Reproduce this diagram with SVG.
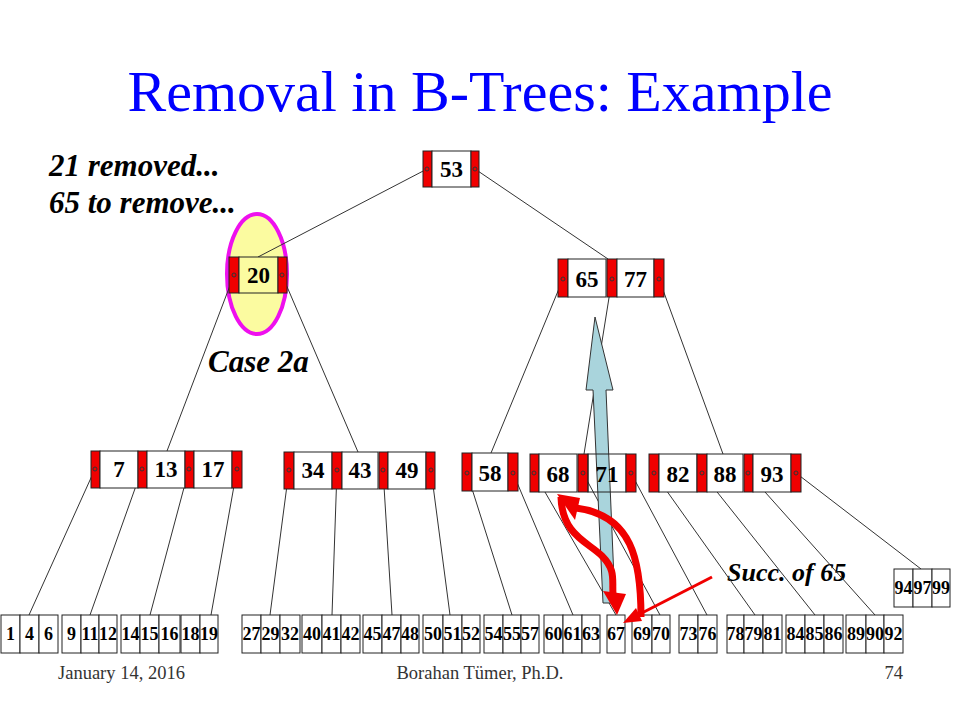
<svg xmlns="http://www.w3.org/2000/svg" width="960" height="720" viewBox="0 0 960 720">
<style>
.bg{fill:#fff}
.red{fill:#f00000;stroke:#222;stroke-width:1}
.key{fill:#fff;stroke:#222;stroke-width:1}
.keyy{fill:#fbfba0;stroke:#222;stroke-width:1}
.keyn{fill:none;stroke:#222;stroke-width:1}
.cell{fill:#fff;stroke:#222;stroke-width:1}
.ptr{fill:none;stroke:#333;stroke-width:1}
.edge{stroke:#333;stroke-width:1;fill:none}
.kt{font-family:"Liberation Serif","Times New Roman",serif;font-weight:bold;font-size:23px;text-anchor:middle;fill:#000}
.lt{font-family:"Liberation Serif","Times New Roman",serif;font-weight:bold;font-size:18px;text-anchor:middle;fill:#000}
.title{font-family:"Liberation Serif","Times New Roman",serif;font-size:58px;text-anchor:middle;fill:#0000ff}
.note{font-family:"Liberation Serif","Times New Roman",serif;font-weight:bold;font-style:italic;font-size:31px;fill:#000}
.foot{font-family:"Liberation Serif","Times New Roman",serif;font-size:18.5px;fill:#333}
</style>
<rect class="bg" x="0" y="0" width="960" height="720"/>
<text class="title" x="480" y="111">Removal in B-Trees: Example</text>
<text class="note" x="49" y="176">21 removed...</text>
<text class="note" x="49" y="213">65 to remove...</text>
<text class="note" x="208" y="372">Case 2a</text>
<text class="note" x="727" y="581" style="font-size:26px">Succ. of 65</text>

<ellipse id="highlight" cx="257" cy="274" rx="30" ry="60" fill="#fbfba0" stroke="#ee10ee" stroke-width="4"/>

<g id="connectors">
<line class="edge" x1="427" y1="169" x2="258" y2="257"/>
<line class="edge" x1="475" y1="169" x2="608" y2="259"/>
<line class="edge" x1="234" y1="275" x2="167" y2="451"/>
<line class="edge" x1="282" y1="275" x2="358" y2="452"/>
<line class="edge" x1="563" y1="279" x2="491" y2="453"/>
<line class="edge" x1="612" y1="279" x2="584" y2="454"/>
<line class="edge" x1="659" y1="279" x2="723" y2="454"/>
<line class="edge" x1="95" y1="469" x2="29" y2="615"/>
<line class="edge" x1="142" y1="469" x2="90" y2="615"/>
<line class="edge" x1="189" y1="469" x2="150" y2="615"/>
<line class="edge" x1="237" y1="469" x2="211" y2="615"/>
<line class="edge" x1="289" y1="470" x2="270" y2="615"/>
<line class="edge" x1="337" y1="470" x2="332" y2="615"/>
<line class="edge" x1="383" y1="470" x2="392" y2="615"/>
<line class="edge" x1="431" y1="470" x2="450" y2="615"/>
<line class="edge" x1="467" y1="473" x2="512" y2="615"/>
<line class="edge" x1="513" y1="473" x2="573" y2="615"/>
<line class="edge" x1="534" y1="473" x2="616" y2="615"/>
<line class="edge" x1="583" y1="473" x2="660" y2="615"/>
<line class="edge" x1="631" y1="473" x2="707" y2="615"/>
<line class="edge" x1="654" y1="473" x2="755" y2="615"/>
<line class="edge" x1="702" y1="473" x2="815" y2="615"/>
<line class="edge" x1="748" y1="473" x2="875" y2="615"/>
<line class="edge" x1="796" y1="473" x2="921" y2="569"/>
</g>

<polygon id="succ-arrow" points="595,317 613,390 606,390 615,603 603,603 593,390 586,390" fill="#a9d4dc" stroke="#333" stroke-width="1"/>

<g id="n53">
<rect class="red" x="423" y="151" width="9" height="36"/>
<rect class="key" x="432" y="151" width="39" height="36"/>
<rect class="red" x="471" y="151" width="8" height="36"/>
<circle class="ptr" cx="427" cy="169" r="2"/><circle class="ptr" cx="475" cy="169" r="2"/>
<text class="kt" x="451.5" y="177">53</text>
</g>

<g id="n20">
<rect class="red" x="229" y="257" width="10" height="36"/>
<rect class="keyy" x="239" y="257" width="39" height="36"/>
<rect class="red" x="278" y="257" width="9" height="36"/>
<circle class="ptr" cx="234" cy="275" r="2"/><circle class="ptr" cx="282" cy="275" r="2"/>
<text class="kt" x="258.5" y="283">20</text>
</g>

<g id="n65_77">
<rect class="red" x="558" y="259" width="10" height="38"/>
<rect class="key" x="568" y="259" width="38" height="38"/>
<rect class="red" x="607" y="259" width="10" height="38"/>
<rect class="key" x="617" y="259" width="37" height="38"/>
<rect class="red" x="654" y="259" width="10" height="38"/>
<circle class="ptr" cx="563" cy="279" r="2"/><circle class="ptr" cx="612" cy="279" r="2"/><circle class="ptr" cx="659" cy="279" r="2"/>
<text class="kt" x="587" y="287">65</text>
<text class="kt" x="635.5" y="287">77</text>
</g>

<g id="n7_13_17">
<rect class="red" x="91" y="451" width="9" height="37"/>
<rect class="key" x="100" y="451" width="38" height="37"/>
<rect class="red" x="138" y="451" width="9" height="37"/>
<rect class="key" x="147" y="451" width="38" height="37"/>
<rect class="red" x="185" y="451" width="9" height="37"/>
<rect class="key" x="194" y="451" width="38" height="37"/>
<rect class="red" x="232" y="451" width="10" height="37"/>
<circle class="ptr" cx="95" cy="469" r="2"/><circle class="ptr" cx="142" cy="469" r="2"/><circle class="ptr" cx="189" cy="469" r="2"/><circle class="ptr" cx="237" cy="469" r="2"/>
<text class="kt" x="119" y="477">7</text>
<text class="kt" x="166" y="477">13</text>
<text class="kt" x="213" y="477">17</text>
</g>

<g id="n34_43_49">
<rect class="red" x="284" y="452" width="10" height="37"/>
<rect class="key" x="294" y="452" width="38" height="37"/>
<rect class="red" x="332" y="452" width="10" height="37"/>
<rect class="key" x="342" y="452" width="36" height="37"/>
<rect class="red" x="379" y="452" width="9" height="37"/>
<rect class="key" x="388" y="452" width="38" height="37"/>
<rect class="red" x="426" y="452" width="9" height="37"/>
<circle class="ptr" cx="289" cy="470" r="2"/><circle class="ptr" cx="337" cy="470" r="2"/><circle class="ptr" cx="383" cy="470" r="2"/><circle class="ptr" cx="431" cy="470" r="2"/>
<text class="kt" x="313" y="478">34</text>
<text class="kt" x="360" y="478">43</text>
<text class="kt" x="407" y="478">49</text>
</g>

<g id="n58">
<rect class="red" x="462" y="453" width="10" height="38"/>
<rect class="key" x="472" y="453" width="36" height="38"/>
<rect class="red" x="508" y="453" width="10" height="38"/>
<circle class="ptr" cx="467" cy="473" r="2"/><circle class="ptr" cx="513" cy="473" r="2"/>
<text class="kt" x="490" y="481">58</text>
</g>

<g id="n68_71">
<rect class="red" x="530" y="454" width="9" height="38"/>
<rect class="key" x="539" y="454" width="38" height="38"/>
<rect class="red" x="578" y="454" width="10" height="38"/>
<rect class="keyn" x="588" y="454" width="38" height="38"/>
<rect class="red" x="626" y="454" width="10" height="38"/>
<circle class="ptr" cx="534" cy="473" r="2"/><circle class="ptr" cx="583" cy="473" r="2"/><circle class="ptr" cx="631" cy="473" r="2"/>
<text class="kt" x="558" y="482">68</text>
<text class="kt" x="607" y="482">71</text>
</g>

<g id="n82_88_93">
<rect class="red" x="649" y="454" width="10" height="38"/>
<rect class="key" x="659" y="454" width="38" height="38"/>
<rect class="red" x="697" y="454" width="10" height="38"/>
<rect class="key" x="707" y="454" width="36" height="38"/>
<rect class="red" x="744" y="454" width="9" height="38"/>
<rect class="key" x="753" y="454" width="38" height="38"/>
<rect class="red" x="791" y="454" width="10" height="38"/>
<circle class="ptr" cx="654" cy="473" r="2"/><circle class="ptr" cx="702" cy="473" r="2"/><circle class="ptr" cx="748" cy="473" r="2"/><circle class="ptr" cx="796" cy="473" r="2"/>
<text class="kt" x="678" y="482">82</text>
<text class="kt" x="725" y="482">88</text>
<text class="kt" x="772" y="482">93</text>
</g>

<g id="leaf1"><rect class="cell" x="1" y="615" width="19" height="38"/><rect class="cell" x="20" y="615" width="19" height="38"/><rect class="cell" x="39" y="615" width="19" height="38"/>
<text class="lt" x="10.5" y="640">1</text><text class="lt" x="29.5" y="640">4</text><text class="lt" x="48.5" y="640">6</text></g>
<g id="leaf2"><rect class="cell" x="62" y="615" width="19" height="38"/><rect class="cell" x="81" y="615" width="18" height="38"/><rect class="cell" x="99" y="615" width="18" height="38"/>
<text class="lt" x="71.5" y="640">9</text><text class="lt" x="90" y="640">11</text><text class="lt" x="108" y="640">12</text></g>
<g id="leaf3"><rect class="cell" x="121" y="615" width="19" height="38"/><rect class="cell" x="140" y="615" width="19" height="38"/><rect class="cell" x="159" y="615" width="21" height="38"/>
<text class="lt" x="130.5" y="640">14</text><text class="lt" x="149.5" y="640">15</text><text class="lt" x="169.5" y="640">16</text></g>
<g id="leaf4"><rect class="cell" x="181" y="615" width="19" height="38"/><rect class="cell" x="200" y="615" width="18" height="38"/>
<text class="lt" x="190.5" y="640">18</text><text class="lt" x="209" y="640">19</text></g>
<g id="leaf5"><rect class="cell" x="242" y="615" width="19" height="38"/><rect class="cell" x="261" y="615" width="19" height="38"/><rect class="cell" x="280" y="615" width="20" height="38"/>
<text class="lt" x="251.5" y="640">27</text><text class="lt" x="270.5" y="640">29</text><text class="lt" x="290" y="640">32</text></g>
<g id="leaf6"><rect class="cell" x="302" y="615" width="20" height="38"/><rect class="cell" x="322" y="615" width="19" height="38"/><rect class="cell" x="341" y="615" width="19" height="38"/>
<text class="lt" x="312" y="640">40</text><text class="lt" x="331.5" y="640">41</text><text class="lt" x="350.5" y="640">42</text></g>
<g id="leaf7"><rect class="cell" x="363" y="615" width="19" height="38"/><rect class="cell" x="382" y="615" width="19" height="38"/><rect class="cell" x="401" y="615" width="18" height="38"/>
<text class="lt" x="372.5" y="640">45</text><text class="lt" x="391.5" y="640">47</text><text class="lt" x="410" y="640">48</text></g>
<g id="leaf8"><rect class="cell" x="423" y="615" width="20" height="38"/><rect class="cell" x="443" y="615" width="19" height="38"/><rect class="cell" x="462" y="615" width="18" height="38"/>
<text class="lt" x="433" y="640">50</text><text class="lt" x="452.5" y="640">51</text><text class="lt" x="471" y="640">52</text></g>
<g id="leaf9"><rect class="cell" x="484" y="615" width="19" height="38"/><rect class="cell" x="503" y="615" width="18" height="38"/><rect class="cell" x="521" y="615" width="18" height="38"/>
<text class="lt" x="493.5" y="640">54</text><text class="lt" x="512" y="640">55</text><text class="lt" x="530" y="640">57</text></g>
<g id="leaf10"><rect class="cell" x="544" y="615" width="19" height="38"/><rect class="cell" x="563" y="615" width="19" height="38"/><rect class="cell" x="582" y="615" width="18" height="38"/>
<text class="lt" x="553.5" y="640">60</text><text class="lt" x="572.5" y="640">61</text><text class="lt" x="591" y="640">63</text></g>
<g id="leaf11"><rect class="cell" x="607" y="615" width="18" height="38"/>
<text class="lt" x="616" y="640">67</text></g>
<g id="leaf12"><rect class="cell" x="632" y="615" width="20" height="38"/><rect class="cell" x="652" y="615" width="18" height="38"/>
<text class="lt" x="642" y="640">69</text><text class="lt" x="661" y="640">70</text></g>
<g id="leaf13"><rect class="cell" x="679" y="615" width="19" height="38"/><rect class="cell" x="698" y="615" width="19" height="38"/>
<text class="lt" x="688.5" y="640">73</text><text class="lt" x="707.5" y="640">76</text></g>
<g id="leaf14"><rect class="cell" x="727" y="615" width="17" height="38"/><rect class="cell" x="744" y="615" width="19" height="38"/><rect class="cell" x="763" y="615" width="19" height="38"/>
<text class="lt" x="735.5" y="640">78</text><text class="lt" x="753.5" y="640">79</text><text class="lt" x="772.5" y="640">81</text></g>
<g id="leaf15"><rect class="cell" x="786" y="615" width="19" height="38"/><rect class="cell" x="805" y="615" width="19" height="38"/><rect class="cell" x="824" y="615" width="19" height="38"/>
<text class="lt" x="795.5" y="640">84</text><text class="lt" x="814.5" y="640">85</text><text class="lt" x="833.5" y="640">86</text></g>
<g id="leaf16"><rect class="cell" x="846" y="615" width="20" height="38"/><rect class="cell" x="866" y="615" width="18" height="38"/><rect class="cell" x="884" y="615" width="19" height="38"/>
<text class="lt" x="856" y="640">89</text><text class="lt" x="875" y="640">90</text><text class="lt" x="893.5" y="640">92</text></g>
<g id="leaf17"><rect class="cell" x="894" y="569" width="19" height="38"/><rect class="cell" x="913" y="569" width="19" height="38"/><rect class="cell" x="932" y="569" width="18" height="38"/>
<text class="lt" x="903.5" y="594">94</text><text class="lt" x="922.5" y="594">97</text><text class="lt" x="941" y="594">99</text></g>

<g id="annotations">
<path d="M 561 497 C 562 535, 588 542, 602 556 S 612 580, 613 594" fill="none" stroke="#f00000" stroke-width="7"/>
<polygon points="603,591 626,594 617,615" fill="#f00000"/>
<path d="M 641 617 C 641 560, 632 515, 576 508" fill="none" stroke="#f00000" stroke-width="7"/>
<polygon points="557,494 580,498 575,520" fill="#f00000"/>
<line x1="712" y1="577" x2="638" y2="615" stroke="#f00000" stroke-width="3"/>
<polygon points="623,623 642,621 636,608" fill="#f00000"/>
</g>

<g id="footer">
<text class="foot" x="58" y="679">January 14, 2016</text>
<text class="foot" x="480" y="679" text-anchor="middle">Borahan Tümer, Ph.D.</text>
<text class="foot" x="903" y="679" text-anchor="end">74</text>
</g>
</svg>
